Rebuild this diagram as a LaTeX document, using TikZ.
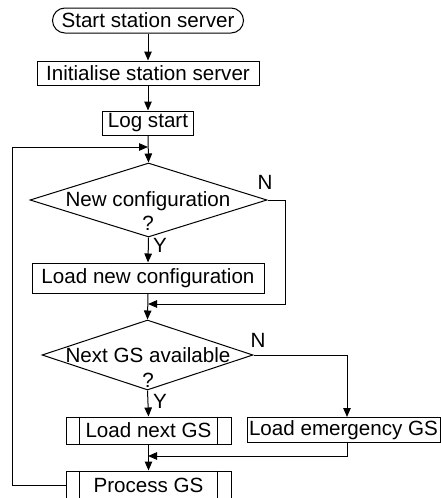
\documentclass[tikz,border=0pt]{standalone}
\usepackage{fontspec}
\setmainfont{Liberation Sans}
\usetikzlibrary{arrows.meta,shapes.geometric,calc}
\begin{document}
\begin{tikzpicture}[x=1pt,y=-1pt,
  every node/.style={font=\fontsize{20.6}{24}\selectfont, inner sep=0pt},
  box/.style={draw, line width=1pt, minimum width=#1, anchor=center},
  arr/.style={line width=1pt, -{Triangle[length=9pt,width=7.5pt]}},
  ln/.style={line width=1pt},
  dec/.style={draw, line width=1pt, diamond, inner sep=0pt},
  lbl/.style={anchor=base}]
\useasboundingbox (0,0) rectangle (441,498);
\clip (0,0) rectangle (441,498);
% nodes
\node[box=191pt, minimum height=25pt, rounded corners=12.5pt] (start) at (148,20.5) {Start station server};
\node[box=222pt, minimum height=24pt] (init) at (148,73) {Initialise station server};
\node[box=91pt, minimum height=24pt] (log) at (148,123) {Log start};
\coordinate (j1) at (148,147);
\node[dec, minimum width=237pt, minimum height=74pt] (d1) at (148.5,200) {};
\node[lbl] (t1) at (148,206) {New configuration};
\node[lbl] (q1) at (148,230) {?};
\node[lbl] (n1) at (265,189) {N};
\node[lbl] (y1) at (160,252) {Y};
\node[box=232pt, minimum height=30pt] (lnc) at (148,278) {Load new configuration};
\coordinate (r1) at (285,304);
\coordinate (m1) at (148,304);
\node[dec, minimum width=211pt, minimum height=70pt] (d2) at (147.5,355) {};
\node[lbl] (t2) at (148,362) {Next GS available};
\node[lbl] (q2) at (148,387) {?};
\node[lbl] (n2) at (258,347) {N};
\node[lbl] (y2) at (160,408) {Y};
\node[box=165pt, minimum height=27pt] (lng) at (148.5,430.5) {Load next GS};
\node[box=193pt, minimum height=25pt] (leg) at (343.5,430) {Load emergency GS};
\coordinate (m2) at (148,456);
\node[box=165pt, minimum height=28pt] (proc) at (148.5,485) {Process GS};
\coordinate (loopc) at (12,147);
% predefined process inner lines
\draw[ln] ([xshift=14pt]lng.north west) -- ([xshift=14pt]lng.south west);
\draw[ln] ([xshift=-14pt]lng.north east) -- ([xshift=-14pt]lng.south east);
\draw[ln] ([xshift=14pt]proc.north west) -- ([xshift=14pt]proc.south west);
\draw[ln] ([xshift=-14pt]proc.north east) -- ([xshift=-14pt]proc.south east);
% connectors
\draw[arr] (start.south) -- (init.north);
\draw[arr] (init.south) -- (log.north);
\draw[arr] (log.south) -- (d1.north);
\draw[arr] (proc.west) -| (loopc) -- (j1);
\draw[arr] (d1.south) -- (lnc.north);
\draw[arr] (d1.east) -| (r1) -- (m1);
\draw[arr] (lnc.south) -- (d2.north);
\draw[arr] (d2.south) -- (lng.north);
\draw[arr] (d2.east) -| ([xshift=3.5pt]leg.north);
\draw[arr] (lng.south) -- (proc.north);
\draw[arr] ([xshift=3.5pt]leg.south) |- (m2);
\end{tikzpicture}
\end{document}
